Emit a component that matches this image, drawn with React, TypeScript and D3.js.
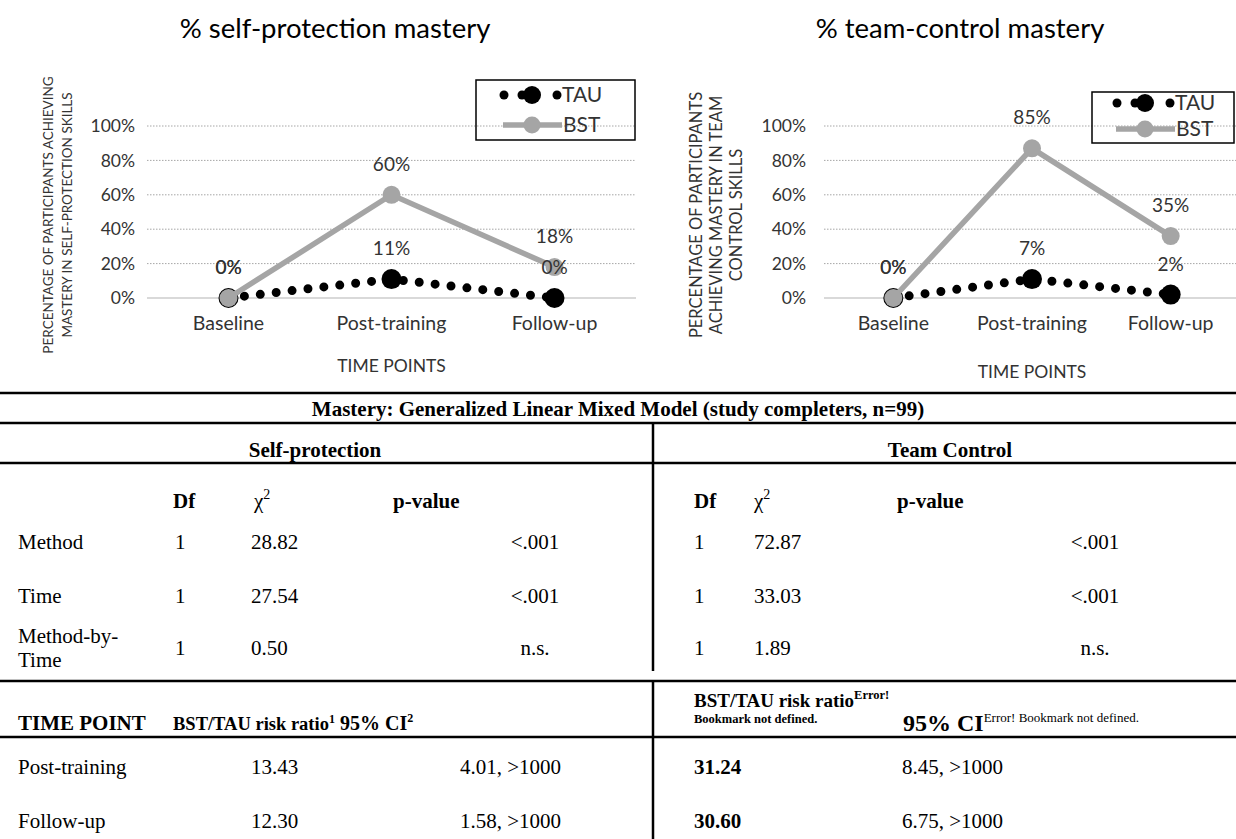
import * as d3 from "d3";

// chart data
const timePoints = ["Baseline", "Post-training", "Follow-up"];
const yTicks = [0, 0.2, 0.4, 0.6, 0.8, 1];

const selfBST = [0, 0.6, 0.18];
const selfTAU = [0, 0.11, 0];
const selfBSTLabels = ["0%", "60%", "18%"];
const selfTAULabels = ["0%", "11%", "0%"];

const teamBST = [0, 0.87, 0.36];
const teamTAU = [0, 0.11, 0.02];
const teamBSTLabels = ["0%", "85%", "35%"];
const teamTAULabels = ["0%", "7%", "2%"];

// table data
const effects = ["Method", "Time", "Method-by-Time"];
const selfDf = ["1", "1", "1"];
const selfChi = ["28.82", "27.54", "0.50"];
const selfP = ["<.001", "<.001", "n.s."];
const teamDf = ["1", "1", "1"];
const teamChi = ["72.87", "33.03", "1.89"];
const teamP = ["<.001", "<.001", "n.s."];

const riskTimes = ["Post-training", "Follow-up"];
const selfRR = ["13.43", "12.30"];
const selfCI = ["4.01, >1000", "1.58, >1000"];
const teamRR = ["31.24", "30.60"];
const teamCI = ["8.45, >1000", "6.75, >1000"];

const chartFont = "Lato, 'Open Sans', sans-serif";
const tableFont = "'Liberation Serif', 'Times New Roman', serif";
const textColor = "#333";
const bstColor = "#a5a5a5";

const y = d3.scaleLinear().domain([0, 1]).range([298, 126]);
const pct = d3.format(".0%");

function MasteryChart(props) {
  const {title, titleX, range, bst, tau, bstLabels, tauLabels, yTitle, yTitleX, yTitleSize, legend, axisTitleY, tickGap} = props;
  const x = d3.scaleBand().domain(timePoints).range(range);
  const cx = (i) => x(timePoints[i]) + x.bandwidth() / 2;
  const line = d3.line().x((d, i) => cx(i)).y(d => y(d));

  return (
    <g fontFamily={chartFont}>
      <text x={titleX} y={38} textAnchor="middle" fontSize={27.5} fill="#000">{title}</text>

      {/* grid */}
      {yTicks.map(t => (
        <g key={t}>
          <line x1={range[0]} x2={range[1]} y1={y(t)} y2={y(t)}
                stroke={t === 0 ? "#d9d9d9" : "#a6a6a6"} strokeWidth={t === 0 ? 2 : 1}
                strokeDasharray={t === 0 ? null : "1.5 1.5"} />
          <text x={range[0] - tickGap} y={y(t)} dy="0.35em" textAnchor="end" fontSize={17.5} fill={textColor}>{pct(t)}</text>
        </g>
      ))}

      {/* category labels */}
      {timePoints.map((c, i) => (
        <text key={c} x={cx(i)} y={330} textAnchor="middle" fontSize={19.5} fill={textColor}>{c}</text>
      ))}
      <text x={cx(1)} y={axisTitleY} textAnchor="middle" fontSize={17.5} fill={textColor}>TIME POINTS</text>

      {/* y title */}
      {yTitle.map((s, i) => (
        <text key={s} transform={`translate(${yTitleX[i]},215) rotate(-90)`} textAnchor="middle"
              fontSize={yTitleSize} fill={textColor}>{s}</text>
      ))}

      {/* TAU series */}
      <path d={line(tau)} fill="none" stroke="#000" strokeWidth={9}
            strokeLinecap="round" strokeDasharray="0 16" />
      {tau.map((v, i) => <circle key={i} cx={cx(i)} cy={y(v)} r={10} fill="#000" />)}

      {/* BST series */}
      <path d={line(bst)} fill="none" stroke={bstColor} strokeWidth={5.5} />
      {bst.map((v, i) => <circle key={i} cx={cx(i)} cy={y(v)} r={9} fill={bstColor} />)}

      {/* data labels */}
      {bst.map((v, i) => (
        <text key={"b" + i} x={cx(i)} y={y(v) - 24} textAnchor="middle" fontSize={19} fill={textColor}>{bstLabels[i]}</text>
      ))}
      {tau.map((v, i) => (
        <text key={"t" + i} x={cx(i)} y={y(v) - 24} textAnchor="middle" fontSize={19} fill={textColor}>{tauLabels[i]}</text>
      ))}

      {/* legend */}
      <rect x={legend.x} y={legend.y} width={legend.w} height={legend.h} fill="none" stroke="#000" strokeWidth={1.5} />
      <g>
        {[-28, -10, 25].map(dx => (
          <circle key={dx} cx={legend.cx + dx} cy={legend.tauY} r={4.5} fill="#000" />
        ))}
        <circle cx={legend.cx} cy={legend.tauY} r={9} fill="#000" />
        <text x={legend.cx + 30} y={legend.tauY} dy="0.35em" fontSize={21} fill={textColor}>TAU</text>
        <line x1={legend.cx - 29} x2={legend.cx + 30} y1={legend.bstY} y2={legend.bstY}
              stroke={bstColor} strokeWidth={5.5} />
        <circle cx={legend.cx} cy={legend.bstY} r={8.5} fill={bstColor} />
        <text x={legend.cx + 31} y={legend.bstY} dy="0.35em" fontSize={21} fill={textColor}>BST</text>
      </g>
    </g>
  );
}

function Cell({x, y, children, anchor = "start", bold = false, size = 21}) {
  return (
    <text x={x} y={y} textAnchor={anchor} fontWeight={bold ? "bold" : "normal"} fontSize={size}>{children}</text>
  );
}

function StatsTable() {
  const rowY = [549, 603, 655];
  const riskY = [774, 828];
  const rule = (y1, x1 = 0, x2 = 1236) => <line x1={x1} x2={x2} y1={y1} y2={y1} stroke="#000" strokeWidth={2.5} />;
  return (
    <g fontFamily={tableFont} fill="#000">
      {rule(393)}
      <Cell x={618} y={416} anchor="middle" bold size={21}>Mastery: Generalized Linear Mixed Model (study completers, n=99)</Cell>
      {rule(423)}
      <Cell x={315} y={457} anchor="middle" bold>Self-protection</Cell>
      <Cell x={950} y={457} anchor="middle" bold>Team Control</Cell>
      {rule(463)}
      <line x1={653} x2={653} y1={423} y2={671} stroke="#000" strokeWidth={2.5} />

      {/* column heads */}
      {[{df: 173, chi: 254, p: 393}, {df: 694, chi: 754, p: 897}].map((c, k) => (
        <g key={k}>
          <Cell x={c.df} y={508} bold>Df</Cell>
          <text x={c.chi} y={508} fontSize={21}>χ<tspan dy={-9} fontSize={14}>2</tspan></text>
          <Cell x={c.p} y={508} bold>p-value</Cell>
        </g>
      ))}

      {effects.map((e, i) => (
        <g key={e}>
          {e === "Method-by-Time" ? (
            <>
              <Cell x={18} y={rowY[i] - 12}>Method-by-</Cell>
              <Cell x={18} y={rowY[i] + 12}>Time</Cell>
            </>
          ) : <Cell x={18} y={rowY[i]}>{e}</Cell>}
          <Cell x={175} y={rowY[i]}>{selfDf[i]}</Cell>
          <Cell x={251} y={rowY[i]}>{selfChi[i]}</Cell>
          <Cell x={535} y={rowY[i]} anchor="middle">{selfP[i]}</Cell>
          <Cell x={694} y={rowY[i]}>{teamDf[i]}</Cell>
          <Cell x={754} y={rowY[i]}>{teamChi[i]}</Cell>
          <Cell x={1095} y={rowY[i]} anchor="middle">{teamP[i]}</Cell>
        </g>
      ))}

      {rule(681)}
      <line x1={653} x2={653} y1={681} y2={839} stroke="#000" strokeWidth={2.5} />

      {/* risk ratio heads */}
      <Cell x={18} y={730} bold>TIME POINT</Cell>
      <text x={173} y={730} fontSize={18.5} fontWeight="bold">BST/TAU risk ratio<tspan dy={-7} fontSize={12}>1</tspan></text>
      <text x={340} y={730} fontSize={20} fontWeight="bold">95% CI<tspan dy={-8} fontSize={12}>2</tspan></text>
      <text x={694} y={707} fontSize={19} fontWeight="bold">BST/TAU risk ratio<tspan dy={-8} fontSize={12.5}>Error!</tspan></text>
      <Cell x={694} y={723} bold size={12.5}>Bookmark not defined.</Cell>
      <text x={903} y={731} fontSize={24} fontWeight="bold">95% CI<tspan dy={-9} fontSize={13} fontWeight="normal">Error! Bookmark not defined.</tspan></text>
      {rule(737)}

      {riskTimes.map((t, i) => (
        <g key={t}>
          <Cell x={18} y={riskY[i]}>{t}</Cell>
          <Cell x={251} y={riskY[i]}>{selfRR[i]}</Cell>
          <Cell x={561} y={riskY[i]} anchor="end">{selfCI[i]}</Cell>
          <Cell x={694} y={riskY[i]} bold>{teamRR[i]}</Cell>
          <Cell x={902} y={riskY[i]}>{teamCI[i]}</Cell>
        </g>
      ))}
    </g>
  );
}

export default function App() {
  return (
    <svg width={1236} height={839} style={{position: "absolute", left: 0, top: 0, background: "#fff"}}>
      <rect width={1236} height={839} fill="#fff" />
      <MasteryChart
        title="% self-protection mastery" titleX={335}
        range={[147, 636]} bst={selfBST} tau={selfTAU}
        bstLabels={selfBSTLabels} tauLabels={selfTAULabels}
        yTitle={["PERCENTAGE OF PARTICIPANTS ACHIEVING", "MASTERY IN SELF-PROTECTION SKILLS"]}
        yTitleX={[53, 72]} yTitleSize={13.5} axisTitleY={372} tickGap={12}
        legend={{x: 476, y: 80, w: 159, h: 60, cx: 532, tauY: 95, bstY: 125}}
      />
      <MasteryChart
        title="% team-control mastery" titleX={960}
        range={[824, 1240]} bst={teamBST} tau={teamTAU}
        bstLabels={teamBSTLabels} tauLabels={teamTAULabels}
        yTitle={["PERCENTAGE OF PARTICIPANTS", "ACHIEVING MASTERY IN TEAM", "CONTROL SKILLS"]}
        yTitleX={[702, 722, 742]} yTitleSize={16.5} axisTitleY={378} tickGap={18}
        legend={{x: 1092, y: 92, w: 142, h: 51, cx: 1145, tauY: 103, bstY: 129}}
      />
      <StatsTable />
    </svg>
  );
}
